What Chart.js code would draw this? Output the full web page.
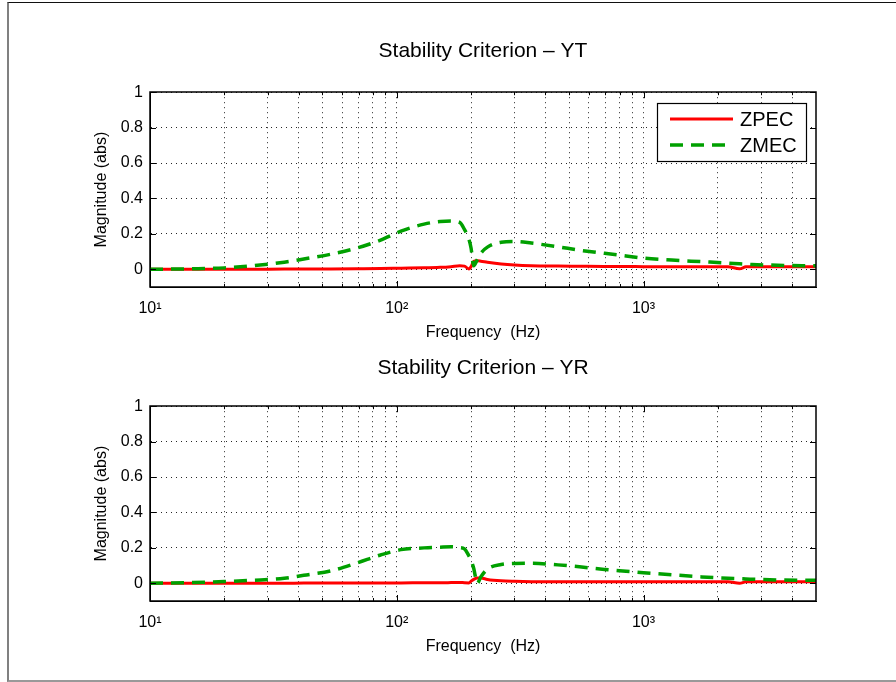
<!DOCTYPE html>
<html>
<head>
<meta charset="utf-8">
<script src="https://cdn.jsdelivr.net/npm/chart.js@4/dist/chart.umd.min.js"></script>
<style>
html, body { margin: 0; padding: 0; background: #fff; }
#fig { position: relative; width: 896px; height: 682px; overflow: hidden; background: #fff; }
#frame { position: absolute; left: 7px; top: 2px; width: 900px; height: 677px;
         border-left: 2px solid #808080; border-top: 1px solid #111; border-bottom: 2px solid #999; }
canvas { position: absolute; left: 0; }
</style>
</head>
<body>
<div id="fig">
  <div id="frame"></div>
  <canvas id="yt" width="896" height="341" style="top:0"></canvas>
  <canvas id="yr" width="896" height="341" style="top:341px"></canvas>
</div>
<script>
// frequency points (Hz)
const freq = [10, 15, 20, 26, 35, 42, 54, 69, 86, 104, 129, 150, 166, 180, 188, 196, 200, 205, 212, 219,
              233, 265, 300, 351, 450, 550, 695, 850, 1000, 1300, 1720, 2200, 2450, 2600, 2750, 3500, 4390, 5000];

// Stability Criterion - YT
const ytZPEC = [0, 0, 0, 0, 0.001, 0.001, 0.002, 0.003, 0.004, 0.006, 0.008, 0.011, 0.015, 0.02, 0.018, 0.002, 0.015, 0.045, 0.048, 0.046,
                0.04, 0.03, 0.024, 0.02, 0.018, 0.017, 0.016, 0.016, 0.015, 0.015, 0.015, 0.014, 0.003, 0.014, 0.015, 0.015, 0.015, 0.015];
const ytZMEC = [0, 0.003, 0.008, 0.02, 0.04, 0.058, 0.085, 0.12, 0.165, 0.215, 0.255, 0.27, 0.272, 0.265, 0.225, 0.17, 0.12, 0.02, 0.055, 0.09,
                0.125, 0.153, 0.157, 0.148, 0.127, 0.108, 0.09, 0.075, 0.063, 0.052, 0.043, 0.035, 0.031, 0.029, 0.027, 0.023, 0.02, 0.02];

// Stability Criterion - YR
const yrZPEC = [0, 0, 0, 0, 0, 0.001, 0.001, 0.001, 0.002, 0.002, 0.003, 0.003, 0.004, 0.005, 0.003, 0.002, 0.012, 0.022, 0.03, 0.03,
                0.022, 0.014, 0.011, 0.009, 0.008, 0.008, 0.008, 0.008, 0.008, 0.008, 0.008, 0.008, 0.0, 0.008, 0.008, 0.008, 0.008, 0.008];
const yrZMEC = [0, 0.004, 0.01, 0.017, 0.028, 0.045, 0.07, 0.115, 0.16, 0.19, 0.2, 0.204, 0.206, 0.202, 0.195, 0.155, 0.13, 0.085, 0.0, 0.035,
                0.08, 0.106, 0.112, 0.113, 0.104, 0.093, 0.078, 0.068, 0.06, 0.048, 0.036, 0.028, 0.026, 0.024, 0.023, 0.019, 0.017, 0.017];

const seriesNames = ['ZPEC', 'ZMEC'];
const xTickValues = [10, 20, 30, 40, 50, 60, 70, 80, 90, 100, 200, 300, 400, 500, 600, 700, 800, 900, 1000, 2000, 3000, 4000];
const xTickLabels = { 10: '10\u00B9', 100: '10\u00B2', 1000: '10\u00B3' };
const yTickValues = [0, 0.2, 0.4, 0.6, 0.8, 1];

const FONT = 'Liberation Sans, Arial, Helvetica, sans-serif';

// axes box + inward tick marks, matlab style
const boxPlugin = {
    id: 'box',
    afterDraw(chart) {
        const ctx = chart.ctx, a = chart.chartArea;
        const xs = chart.scales.x, ys = chart.scales.y;
        ctx.save();
        ctx.strokeStyle = '#000';
        ctx.lineWidth = 1;
        ctx.beginPath();
        xTickValues.forEach(v => {
            const px = Math.round(xs.getPixelForValue(v)) + 0.5;
            const len = xTickLabels[v] ? 6 : 3;
            ctx.moveTo(px, a.bottom); ctx.lineTo(px, a.bottom - len);
            ctx.moveTo(px, a.top); ctx.lineTo(px, a.top + len);
        });
        yTickValues.forEach(v => {
            const py = Math.round(ys.getPixelForValue(v)) + 0.5;
            ctx.moveTo(a.left, py); ctx.lineTo(a.left + 6, py);
            ctx.moveTo(a.right, py); ctx.lineTo(a.right - 6, py);
        });
        ctx.stroke();
        ctx.lineWidth = 1.5;
        ctx.strokeRect(Math.round(a.left), Math.round(a.top), Math.round(a.right - a.left), Math.round(a.bottom - a.top));
        ctx.restore();
    }
};

// legend box inside the axes, top right
const boxLegend = {
    id: 'boxLegend',
    afterDraw(chart, args, opts) {
        if (!opts.show) return;
        const ctx = chart.ctx;
        const bx = 657, by = 103, bw = 149, bh = 58;
        ctx.save();
        ctx.fillStyle = '#fff';
        ctx.fillRect(bx, by, bw, bh);
        ctx.strokeStyle = '#000';
        ctx.lineWidth = 1.2;
        ctx.strokeRect(bx + 0.5, by + 0.5, bw, bh);
        chart.data.datasets.forEach((ds, i) => {
            const cy = by + 16 + i * 26;
            ctx.strokeStyle = ds.borderColor;
            ctx.lineWidth = ds.borderWidth;
            ctx.setLineDash(ds.borderDash || []);
            ctx.beginPath();
            ctx.moveTo(670, cy); ctx.lineTo(733, cy);
            ctx.stroke();
            ctx.setLineDash([]);
            ctx.fillStyle = '#000';
            ctx.font = '20px ' + FONT;
            ctx.textBaseline = 'middle';
            ctx.fillText(ds.label, 740, cy + 1);
        });
        ctx.restore();
    }
};

function toPoints(vals) {
    return freq.map((f, i) => ({ x: f, y: vals[i] }));
}

function makeChart(id, titleText, zpec, zmec, g) {
    return new Chart(document.getElementById(id).getContext('2d'), {
        type: 'line',
        data: {
            datasets: [
                { label: seriesNames[0], data: toPoints(zpec), borderColor: '#ff0000', borderWidth: 3,
                  pointRadius: 0, fill: false, cubicInterpolationMode: 'monotone', order: 1 },
                { label: seriesNames[1], data: toPoints(zmec), borderColor: '#00a000', borderWidth: 3.5, borderDash: [13, 8],
                  pointRadius: 0, fill: false, cubicInterpolationMode: 'monotone', order: 0 }
            ]
        },
        options: {
            responsive: false,
            animation: false,
            layout: { padding: { left: 0, right: 80, top: 0, bottom: 0 } },
            plugins: {
                legend: { display: false },
                tooltip: { enabled: false },
                title: { display: true, text: titleText, color: '#000', fullSize: false,
                         font: { family: FONT, size: 21, weight: 'normal' },
                         padding: { top: g.titleTop, bottom: g.titleBottom } },
                boxLegend: { show: g.legend }
            },
            scales: {
                x: {
                    type: 'logarithmic', min: 10, max: 5000,
                    afterBuildTicks: s => { s.ticks = xTickValues.map(v => ({ value: v })); },
                    afterFit: s => { s.height = g.xHeight; },
                    ticks: { autoSkip: false, maxRotation: 0, minRotation: 0, padding: 12, color: '#000',
                             font: { family: FONT, size: 16 },
                             callback: v => xTickLabels[v] || '' },
                    grid: { color: 'rgba(0,0,0,0.85)', lineWidth: 1, drawTicks: false },
                    border: { display: true, color: '#000', width: 1, dash: [1, 4] },
                    title: { display: true, text: 'Frequency  (Hz)', color: '#000',
                             font: { family: FONT, size: 16, lineHeight: 1 },
                             padding: { top: 0, bottom: g.xTitleBottom } }
                },
                y: {
                    min: -0.1, max: 1,
                    afterBuildTicks: s => { s.ticks = yTickValues.map(v => ({ value: v })); },
                    afterFit: s => { s.width = 150; },
                    ticks: { padding: 7, color: '#000', font: { family: FONT, size: 16 },
                             callback: v => String(v) },
                    grid: { color: 'rgba(0,0,0,0.85)', lineWidth: 1, drawTicks: false },
                    border: { display: true, color: '#000', width: 1, dash: [1, 4] },
                    title: { display: true, text: 'Magnitude (abs)', color: '#000',
                             font: { family: FONT, size: 16, lineHeight: 1 },
                             padding: { top: 94, bottom: 0 } }
                }
            }
        },
        plugins: [boxPlugin, boxLegend]
    });
}

makeChart('yt', 'Stability Criterion \u2013 YT', ytZPEC, ytZMEC,
          { titleTop: 39, titleBottom: 28, xHeight: 54, xTitleBottom: 0, legend: true });
makeChart('yr', 'Stability Criterion \u2013 YR', yrZPEC, yrZMEC,
          { titleTop: 15, titleBottom: 25, xHeight: 81, xTitleBottom: 27, legend: false });
</script>
</body>
</html>
